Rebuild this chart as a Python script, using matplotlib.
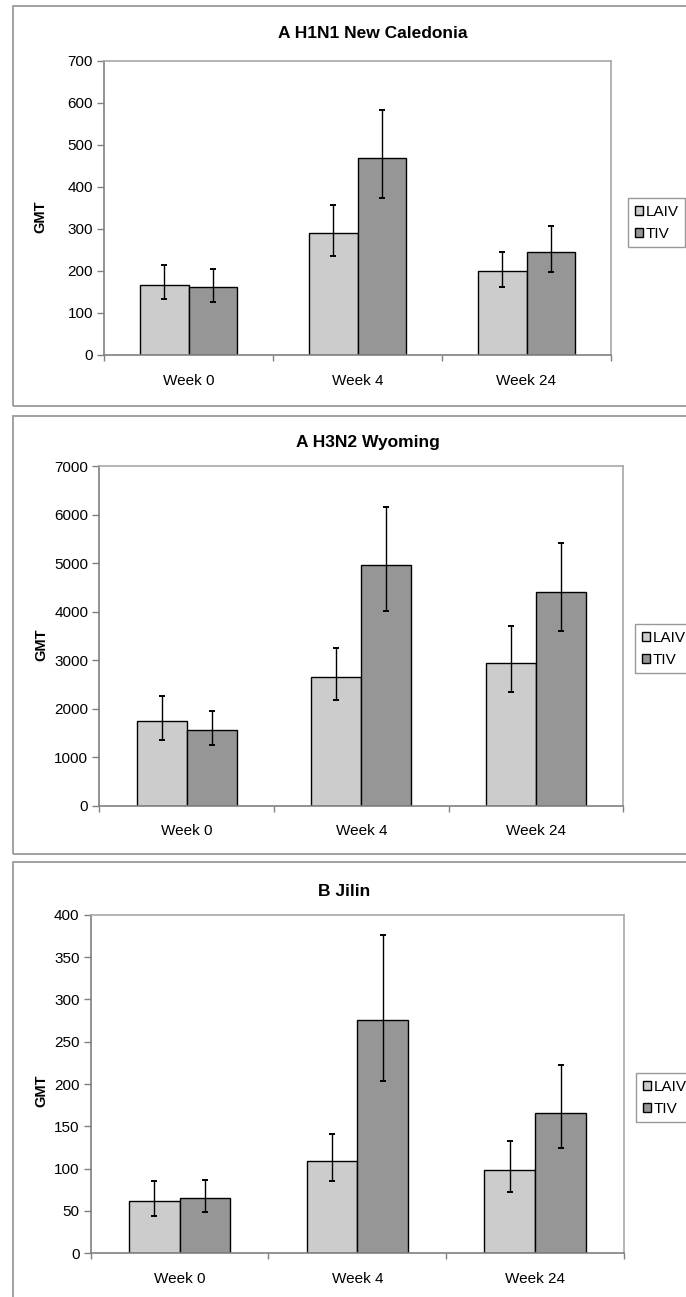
import matplotlib
matplotlib.use("Agg")
import matplotlib.pyplot as plt
from matplotlib.patches import Patch, Rectangle
import numpy as np

plt.rcParams['font.family'] = ['Liberation Sans', 'DejaVu Sans']

# ---------------- data ----------------
categories = ["Week 0", "Week 4", "Week 24"]
series_names = ["LAIV", "TIV"]

titles = ["A H1N1 New Caledonia", "A H3N2 Wyoming", "B Jilin"]

h1n1_laiv = [167, 291, 200]
h1n1_laiv_lo = [133, 235, 163]
h1n1_laiv_hi = [214, 358, 246]
h1n1_tiv = [161, 468, 245]
h1n1_tiv_lo = [126, 375, 198]
h1n1_tiv_hi = [204, 583, 306]

h3n2_laiv = [1748, 2662, 2950]
h3n2_laiv_lo = [1355, 2180, 2352]
h3n2_laiv_hi = [2256, 3253, 3707]
h3n2_tiv = [1555, 4972, 4415]
h3n2_tiv_lo = [1245, 4016, 3604]
h3n2_tiv_hi = [1953, 6162, 5413]

bjil_laiv = [62, 109, 98]
bjil_laiv_lo = [44.5, 85.8, 72.4]
bjil_laiv_hi = [85.8, 141.3, 132.3]
bjil_tiv = [65, 276, 166]
bjil_tiv_lo = [49.2, 203.5, 124]
bjil_tiv_hi = [87, 376.4, 222.4]

y_max = [700, 7000, 400]
y_step = [100, 1000, 50]

# ---------------- layout (pixels) ----------------
W, H = 686, 1297
fig = plt.figure(figsize=(W / 100, H / 100), dpi=100)
fig.patch.set_facecolor("white")

colors = ["#cccccc", "#969696"]

panels = [
    dict(ax=(104, 61, 611, 355), title=(373, 34), gmt=(40, 217), legend=(628, 198),
         border=(12.5, 6, 720, 406),
         data=(h1n1_laiv, h1n1_laiv_lo, h1n1_laiv_hi, h1n1_tiv, h1n1_tiv_lo, h1n1_tiv_hi)),
    dict(ax=(99.3, 466.3, 623.3, 805.7), title=(368, 443), gmt=(41.7, 645), legend=(635, 624),
         border=(12.5, 416, 720, 854),
         data=(h3n2_laiv, h3n2_laiv_lo, h3n2_laiv_hi, h3n2_tiv, h3n2_tiv_lo, h3n2_tiv_hi)),
    dict(ax=(90.7, 914.7, 624, 1253.3), title=(344, 891), gmt=(41.7, 1091), legend=(636, 1073),
         border=(12.5, 862, 720, 1340),
         data=(bjil_laiv, bjil_laiv_lo, bjil_laiv_hi, bjil_tiv, bjil_tiv_lo, bjil_tiv_hi)),
]


def fx(x):
    return x / W


def fy(y):
    return 1 - y / H


bw = 1 / 3.5
x = np.arange(len(categories))

for i, p in enumerate(panels):
    bl, bt, br, bb = p["border"]
    fig.add_artist(Rectangle((fx(bl), fy(bb)), fx(br - bl), (bb - bt) / H,
                             transform=fig.transFigure, facecolor="none",
                             edgecolor="#9a9a9a", lw=1.3, zorder=0))
    l, t, r, b = p["ax"]
    ax = fig.add_axes([fx(l), fy(b), (r - l) / W, (b - t) / H])
    lv, llo, lhi, tv, tlo, thi = [np.array(d, dtype=float) for d in p["data"]]
    err_kw = dict(ecolor="black", elinewidth=1.0, capsize=2.5, capthick=1.4)
    ax.bar(x - bw / 2, lv, bw, color=colors[0], edgecolor="black", linewidth=1.0,
           yerr=[lv - llo, lhi - lv], error_kw=err_kw, label=series_names[0], zorder=2)
    ax.bar(x + bw / 2, tv, bw, color=colors[1], edgecolor="black", linewidth=1.0,
           yerr=[tv - tlo, thi - tv], error_kw=err_kw, label=series_names[1], zorder=2)
    ax.set_xlim(-0.5, len(categories) - 0.5)
    ax.set_ylim(0, y_max[i])
    ax.set_yticks(np.arange(0, y_max[i] + 1, y_step[i]))
    ax.set_xticks(np.arange(-0.5, len(categories), 1.0))
    ax.set_xticklabels([])
    ax.set_xticks(x, minor=True)
    ax.set_xticklabels(categories, minor=True)
    ax.tick_params(axis="x", which="major", direction="out", length=4, color="#808080", width=1)
    ax.tick_params(axis="x", which="minor", length=0, pad=13.5, labelsize=11)
    ax.tick_params(axis="y", direction="out", length=5, color="#808080", width=1,
                   labelsize=11, pad=3)
    for s in ["left", "bottom"]:
        ax.spines[s].set_color("#808080")
        ax.spines[s].set_linewidth(1.2)
    for s in ["top", "right"]:
        ax.spines[s].set_color("#a8a8a8")
        ax.spines[s].set_linewidth(1.2)
    fig.text(fx(p["title"][0]), fy(p["title"][1]), titles[i], ha="center", va="center",
             fontsize=12.5, fontweight="bold")
    fig.text(fx(p["gmt"][0]), fy(p["gmt"][1]), "GMT", ha="center", va="center",
             rotation=90, fontsize=10.5, fontweight="bold")
    handles = [Patch(facecolor=colors[0], edgecolor="black", lw=1.0),
               Patch(facecolor=colors[1], edgecolor="black", lw=1.0)]
    leg = fig.legend(handles, series_names, loc="upper left",
                     bbox_to_anchor=(fx(p["legend"][0]), fy(p["legend"][1])),
                     bbox_transform=fig.transFigure, frameon=True, fancybox=False,
                     fontsize=11, handlelength=0.55, handleheight=0.55, handletextpad=0.15,
                     borderpad=0.45, labelspacing=0.5, borderaxespad=0)
    leg.get_frame().set_edgecolor("#808080")
    leg.get_frame().set_linewidth(1.0)

fig.savefig("out.png", dpi=100, facecolor="white")
